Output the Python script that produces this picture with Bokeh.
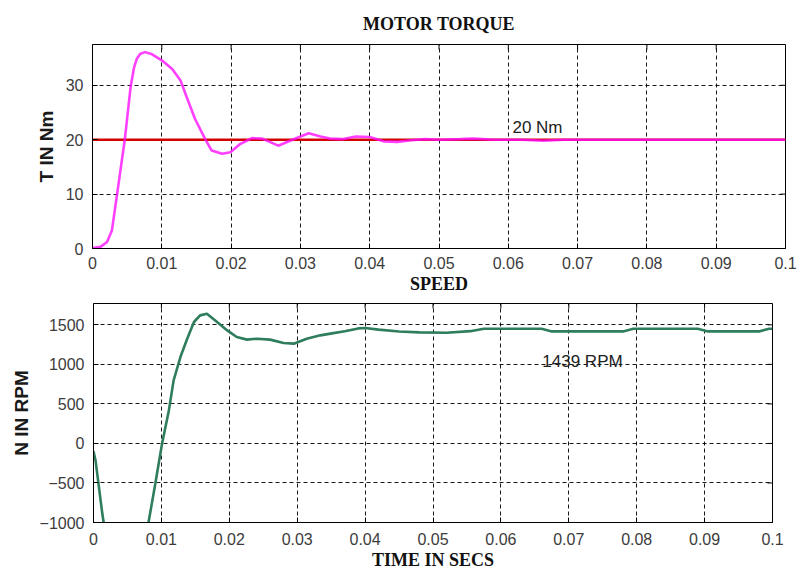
import math
from bokeh.plotting import figure
from bokeh.models import Range1d, FixedTicker, NumeralTickFormatter, Label
from bokeh.embed import file_html
from bokeh.resources import INLINE

# ---------------- data ----------------
x_ticks = [0, 0.01, 0.02, 0.03, 0.04, 0.05, 0.06, 0.07, 0.08, 0.09, 0.1]
torque_y_ticks = [0, 10, 20, 30]
speed_y_ticks = [-1000, -500, 0, 500, 1000, 1500]
torque_range = [0, 37.5]
speed_range = [-1000, 1770]
time_range = [0, 0.1]

ref_torque_t = [0, 0.1]
ref_torque = [20, 20]

torque_t = [0, 0.00115, 0.0021, 0.0028, 0.00355, 0.0043, 0.00466, 0.0055, 0.006,
            0.0064, 0.0069, 0.0076, 0.0086, 0.01, 0.0115, 0.0127, 0.0136, 0.0148,
            0.0163, 0.0172, 0.0187, 0.0199, 0.0213, 0.023, 0.0245, 0.0268, 0.0285,
            0.0312, 0.0329, 0.0343, 0.036, 0.038, 0.040, 0.042, 0.044, 0.046, 0.048,
            0.050, 0.053, 0.055, 0.058, 0.062, 0.065, 0.068, 0.075, 0.085, 0.1]
torque = [0.1, 0.3, 1.2, 3.3, 10, 16.8, 20, 29.7, 33.3,
          34.9, 35.8, 36.1, 35.7, 34.6, 33.0, 30.9, 27.8, 23.8,
          20, 18.0, 17.4, 17.7, 19.2, 20.3, 20.2, 18.9, 19.8,
          21.2, 20.6, 20.2, 20.1, 20.6, 20.5, 19.7, 19.6, 19.9, 20.1,
          20.0, 20.1, 20.2, 20.0, 20.0, 19.8, 20.0, 20.0, 20.0, 20.0]

speed_t = [0, 0.0003, 0.0008, 0.0013, 0.0015, 0.002, 0.003, 0.0045, 0.006, 0.007,
           0.0081, 0.0091, 0.0101, 0.0111, 0.0118, 0.0128, 0.0138, 0.0148, 0.0157,
           0.0167, 0.0182, 0.0197, 0.0211, 0.0226, 0.0241, 0.026, 0.028, 0.0295,
           0.0314, 0.0334, 0.0349, 0.037, 0.039, 0.040, 0.042, 0.045, 0.048, 0.052,
           0.0555, 0.0575, 0.066, 0.0675, 0.078, 0.0795, 0.089, 0.0905, 0.098,
           0.0995, 0.1]
speed = [-100, -215, -553, -890, -1000, -1350, -2100, -2600, -2200, -1600,
         -1000, -510, 0, 418, 798, 1093, 1325, 1536, 1620,
         1640, 1536, 1430, 1346, 1313, 1325, 1313, 1270, 1262,
         1325, 1367, 1389, 1420, 1455, 1460, 1440, 1415, 1405, 1400,
         1420, 1450, 1450, 1417, 1417, 1450, 1450, 1417, 1417,
         1450, 1450]

torque_note = "20 Nm"
speed_note = "1439 RPM"

TICK_FONT = "Liberation Sans"
SERIF = "Liberation Serif"


def style_axes(p, yticks, xr, yr, xlabel, ylabel, x_tick_standoff, x_lab_standoff, y_lab_standoff):
    p.background_fill_color = "white"
    p.border_fill_color = "white"
    p.outline_line_color = "black"
    p.outline_line_width = 1
    for ax in (p.xaxis[0], p.yaxis[0]):
        ax.axis_line_color = "black"
        ax.major_tick_line_color = "black"
        ax.major_tick_in = 5
        ax.major_tick_out = 0
        ax.minor_tick_line_color = None
        ax.major_label_text_font = TICK_FONT
        ax.major_label_text_font_size = "16px"
        ax.major_label_text_color = "#3c3c3c"
    p.xaxis[0].ticker = FixedTicker(ticks=x_ticks)
    p.xaxis[0].formatter = NumeralTickFormatter(format="0.[00]")
    p.yaxis[0].ticker = FixedTicker(ticks=yticks)
    p.xgrid[0].ticker = FixedTicker(ticks=x_ticks)
    p.ygrid[0].ticker = FixedTicker(ticks=yticks)
    for g in (p.xgrid[0], p.ygrid[0]):
        g.grid_line_color = "black"
        g.grid_line_dash = "4 3"
        g.grid_line_width = 1
        g.grid_line_alpha = 0.9
    p.xaxis[0].major_label_standoff = x_tick_standoff
    p.yaxis[0].major_label_standoff = 9
    p.xaxis[0].axis_label = xlabel
    p.xaxis[0].axis_label_text_font = SERIF
    p.xaxis[0].axis_label_text_font_style = "bold"
    p.xaxis[0].axis_label_text_font_size = "18px"
    p.xaxis[0].axis_label_text_color = "#111111"
    p.xaxis[0].axis_label_standoff = x_lab_standoff
    p.yaxis[0].axis_label = ylabel
    p.yaxis[0].axis_label_text_font = TICK_FONT
    p.yaxis[0].axis_label_text_font_style = "bold"
    p.yaxis[0].axis_label_text_font_size = "19px"
    p.yaxis[0].axis_label_text_color = "#1a1a1a"
    p.yaxis[0].axis_label_standoff = y_lab_standoff
    # inward ticks on the top and right edges of the box (MATLAB style)
    p.ray(x=x_ticks, y=[yr[1]] * len(x_ticks), length=5, length_units="screen",
          angle=-math.pi / 2, line_color="black", line_width=1)
    p.ray(x=[xr[1]] * len(yticks), y=yticks, length=5, length_units="screen",
          angle=math.pi, line_color="black", line_width=1)


# ---------------- top: torque ----------------
p1 = figure(width=800, height=298, x_range=Range1d(*time_range), y_range=Range1d(*torque_range),
            output_backend="svg", toolbar_location=None,
            min_border_left=92, min_border_right=15, min_border_top=44, min_border_bottom=50,
            title="MOTOR TORQUE")
p1.title.align = "center"
p1.title.text_font = SERIF
p1.title.text_font_style = "bold"
p1.title.text_font_size = "18px"
p1.title.text_color = "#111111"
p1.title.standoff = 21
style_axes(p1, torque_y_ticks, time_range, torque_range, "SPEED", "T IN Nm", 8, 2, 6)

p1.line(ref_torque_t, ref_torque, line_color="#d40000", line_width=2.5)
p1.line(torque_t, torque, line_color="#ff10ff", line_width=2.6, line_alpha=0.8)
p1.add_layout(Label(x=0.0606, y=22.2, text=torque_note, text_font=TICK_FONT,
                    text_font_size="17px", text_color="#222222",
                    text_baseline="alphabetic"))

# ---------------- bottom: speed ----------------
p2 = figure(width=800, height=275, x_range=Range1d(*time_range), y_range=Range1d(*speed_range),
            output_backend="svg", toolbar_location=None,
            min_border_left=93, min_border_right=28, min_border_top=5, min_border_bottom=51)
style_axes(p2, speed_y_ticks, time_range, speed_range, "TIME IN SECS", "N IN RPM", 10, 2, 5)

p2.line(speed_t, speed, line_color="#2e7d5c", line_width=2.6)
p2.add_layout(Label(x=0.0661, y=1038, text=speed_note, text_font=TICK_FONT,
                    text_font_size="17px", text_color="#222222",
                    text_baseline="alphabetic"))

# two separate roots, stacked, so that each plot keeps its own frame edges
open("out.html", "w").write(file_html([p1, p2], INLINE))
